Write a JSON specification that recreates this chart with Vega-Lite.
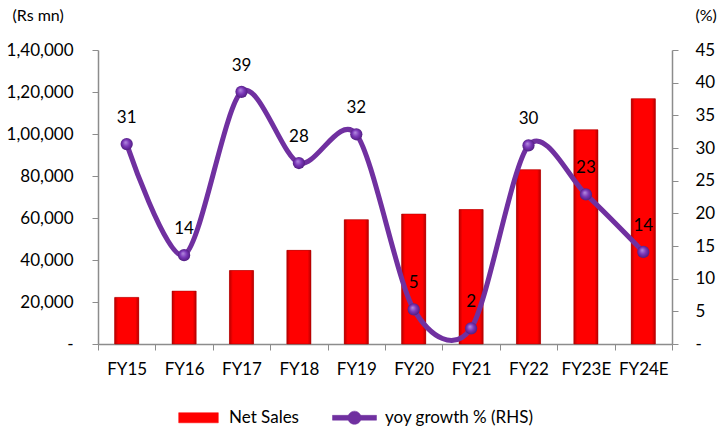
{
  "$schema": "https://vega.github.io/schema/vega-lite/v6.json",
  "width": 574,
  "height": 294,
  "autosize": {"type": "none"},
  "padding": {"left": 98, "top": 50, "right": 49, "bottom": 85},
  "background": "white",
  "config": {
    "view": {"stroke": null},
    "font": "Lato",
    "axis": {"labelFont": "Lato", "labelFontSize": 17, "labelColor": "#000000", "domainColor": "#8c8c8c", "tickColor": "#8c8c8c", "grid": false, "titleFont": "Lato", "titleFontSize": 16, "titleColor": "#000000", "titleFontWeight": "normal"}
  },
  "data": {
    "values": [
      {"year": "FY15", "sales": 22200, "growth": 30.6},
      {"year": "FY16", "sales": 25200, "growth": 13.6},
      {"year": "FY17", "sales": 35000, "growth": 38.6},
      {"year": "FY18", "sales": 44600, "growth": 27.7},
      {"year": "FY19", "sales": 59200, "growth": 32.1},
      {"year": "FY20", "sales": 61900, "growth": 5.3},
      {"year": "FY21", "sales": 64000, "growth": 2.4},
      {"year": "FY22", "sales": 83000, "growth": 30.4},
      {"year": "FY23E", "sales": 102000, "growth": 22.9},
      {"year": "FY24E", "sales": 116800, "growth": 14.1}
    ]
  },
  "encoding": {
    "x": {
      "field": "year", "type": "nominal", "sort": null,
      "scale": {"paddingInner": 0, "paddingOuter": 0},
      "axis": {"title": null, "labelAngle": 0, "tickBand": "extent", "tickSize": 6, "labelPadding": 11, "domainWidth": 1.5}
    }
  },
  "layer": [
    {
      "encoding": {
        "y": {
          "field": "sales", "type": "quantitative",
          "scale": {"domain": [0, 140000]},
          "axis": {
            "orient": "left",
            "values": [0, 20000, 40000, 60000, 80000, 100000, 120000, 140000],
            "labelExpr": "datum.value == 0 ? '-\u2002' : datum.value >= 100000 ? '1,' + format(datum.value - 100000, '06,d') : format(datum.value, ',d')",
            "tickSize": 6, "labelPadding": 19, "domainWidth": 1.5,
            "title": "(Rs mn)", "titleAngle": 0, "titleX": -86, "titleY": -35, "titleAlign": "left", "titleBaseline": "middle"
          }
        }
      },
      "layer": [
        {
          "mark": {"type": "bar", "width": {"band": 0.42}},
          "encoding": {
            "color": {
              "datum": "Net Sales",
              "scale": {"domain": ["Net Sales", "yoy growth % (RHS)"], "range": ["#ff0000", "#7030a0"]},
              "legend": {
                "orient": "none", "legendX": 78, "legendY": 345, "direction": "horizontal",
                "title": null, "symbolSize": 1936, "labelFont": "Lato", "labelFontSize": 17, "labelColor": "#000000",
                "labelOffset": 8, "columnPadding": 32, "padding": 0,
                "encode": {
                  "symbols": {
                    "update": {
                      "shape": {"signal": "datum.value == 'Net Sales' ? 'M-0.9,-0.23H0.9V0.23H-0.9Z' : 'M-1,-0.11H1V0.11H-1Z M0.3,0A0.3,0.3,0,1,1,-0.3,0A0.3,0.3,0,1,1,0.3,0Z'"},
                      "fill": {"signal": "datum.value == 'Net Sales' ? '#ff0000' : '#7030a0'"},
                      "stroke": {"signal": "datum.value == 'Net Sales' ? '#a00000' : '#7030a0'"},
                      "strokeWidth": {"value": 0.5},
                      "opacity": {"value": 1},
                      "fillOpacity": {"value": 1}
                    }
                  }
                }
              }
            }
          }
        },
        {
          "mark": {
            "type": "bar", "width": {"band": 0.42},
            "fill": {"gradient": "linear", "x1": 0, "y1": 0, "x2": 1, "y2": 0,
              "stops": [{"offset": 0, "color": "#b80000"}, {"offset": 0.14, "color": "#ff0000"}, {"offset": 0.86, "color": "#ff0000"}, {"offset": 1, "color": "#b80000"}]},
            "stroke": "#a00000", "strokeWidth": 0.5
          }
        }
      ]
    },
    {
      "encoding": {
        "y": {
          "field": "growth", "type": "quantitative",
          "scale": {"domain": [0, 45]},
          "axis": {
            "orient": "right",
            "values": [0, 5, 10, 15, 20, 25, 30, 35, 40, 45],
            "labelExpr": "datum.value == 0 ? '-' : datum.label",
            "tickSize": 6, "labelPadding": 17, "domainWidth": 1.5,
            "title": "(%)", "titleAngle": 0, "titleX": 23, "titleY": -35, "titleAlign": "left", "titleBaseline": "middle"
          }
        }
      },
      "layer": [
        {
          "mark": {"type": "line", "interpolate": "cardinal", "tension": 0.12, "strokeWidth": 5},
          "encoding": {"color": {"datum": "yoy growth % (RHS)"}}
        },
        {
          "mark": {
            "type": "point", "filled": true, "size": 150, "opacity": 1,
            "fill": {"gradient": "radial", "x1": 0.4, "y1": 0.35, "r1": 0, "x2": 0.5, "y2": 0.5, "r2": 0.55,
              "stops": [{"offset": 0, "color": "#b58ee0"}, {"offset": 0.5, "color": "#7a36b8"}, {"offset": 1, "color": "#4b1a78"}]}
          }
        },
        {
          "mark": {"type": "text", "dy": -26, "font": "Lato", "fontSize": 17, "color": "#000000", "baseline": "middle"},
          "encoding": {"text": {"field": "growth", "type": "quantitative", "format": ".0f"}}
        }
      ]
    }
  ],
  "resolve": {"scale": {"y": "independent"}}
}
